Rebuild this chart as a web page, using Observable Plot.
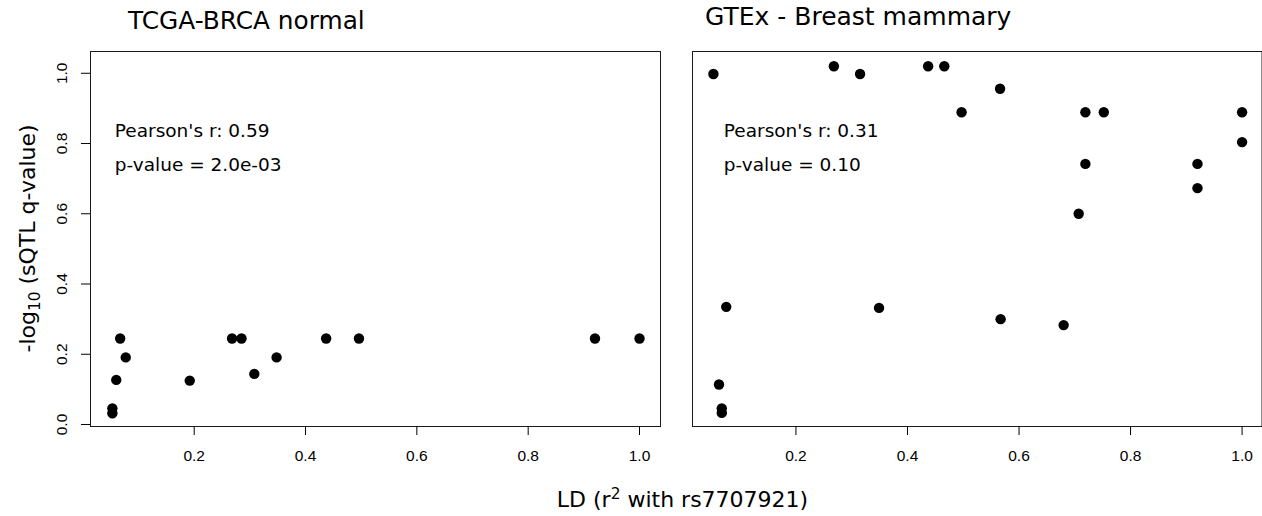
<!DOCTYPE html>
<html>
<head>
<meta charset="utf-8">
<script src="https://cdn.jsdelivr.net/npm/d3@7"></script>
<script src="https://cdn.jsdelivr.net/npm/@observablehq/plot@0.6"></script>
<style>
  html, body { margin: 0; padding: 0; background: #fff; }
  #fig { position: relative; width: 1262px; height: 516px; overflow: hidden; background: #fff; }
  #fig > svg { position: absolute; top: 0; }
</style>
</head>
<body>
<div id="fig"></div>
<script>
// LD (r^2 with rs7707921) versus -log10 sQTL q-value, two cohorts
const tcgaLD = [0.067, 0.077, 0.060, 0.053, 0.053, 0.192, 0.268, 0.285, 0.308, 0.348, 0.437, 0.496, 0.920, 1.000];
const tcgaQ  = [0.245, 0.191, 0.127, 0.046, 0.032, 0.125, 0.245, 0.245, 0.144, 0.191, 0.245, 0.245, 0.245, 0.245];

const gtexLD = [0.052, 0.268, 0.315, 0.437, 0.466, 0.497, 0.566, 0.719, 0.752, 1.000, 1.000, 0.719, 0.920, 0.920, 0.707, 0.075, 0.349, 0.062, 0.067, 0.067, 0.567, 0.680];
const gtexQ  = [0.998, 1.020, 0.998, 1.020, 1.020, 0.889, 0.956, 0.889, 0.889, 0.889, 0.804, 0.742, 0.742, 0.673, 0.600, 0.335, 0.332, 0.114, 0.046, 0.033, 0.300, 0.283];

const panelTitles = ["TCGA-BRCA normal", "GTEx - Breast mammary"];
const pearsonR = ["0.59", "0.31"];
const pValues = ["2.0e-03", "0.10"];

const xTicks = [0.2, 0.4, 0.6, 0.8, 1.0];
const yTicks = [0.0, 0.2, 0.4, 0.6, 0.8, 1.0];

const fmt1 = d3.format(".1f");
const annotFont = "'DejaVu Sans', sans-serif";
const tickFont = "'Liberation Sans', Arial, sans-serif";
const tickSizePx = 15.5;
const yDomain = [-0.0057, 1.062];

function panel({ld, q, width, marginLeft, marginRight, xDomain, showY, r, p, statX}) {
  const pts = ld.map((x, i) => ({ld: x, q: q[i]}));
  return Plot.plot({
    width, height: 516,
    marginLeft, marginRight, marginTop: 51, marginBottom: 90,
    style: {fontFamily: tickFont, fontSize: `${tickSizePx}px`, color: "#000", background: "transparent"},
    x: {domain: xDomain},
    y: {domain: yDomain, axis: showY ? undefined : null},
    marks: [
      Plot.frame({stroke: "#1a1a1a"}),
      Plot.axisX({ticks: xTicks, tickSize: 9, tickPadding: 14, tickFormat: fmt1, label: null,
        fontSize: tickSizePx, fontFamily: tickFont, fill: "#000"}),
      // y tick marks only; the labels are drawn rotated below
      showY ? Plot.axisY({ticks: yTicks, tickSize: 9, tickFormat: () => "", label: null}) : null,
      showY ? Plot.text(yTicks, {y: d => d, text: fmt1, frameAnchor: "left", dx: -28.3,
        rotate: -90, textAnchor: "middle", lineAnchor: "middle",
        fontSize: tickSizePx, fontFamily: tickFont, fill: "#000"}) : null,
      Plot.dot(pts, {x: "ld", y: "q", r: 5.2, fill: "#000", stroke: null}),
      Plot.text([`Pearson's r: ${r}`], {x: () => statX, y: () => 0.835, textAnchor: "start",
        lineAnchor: "middle", fontFamily: annotFont, fontSize: 18.5, fill: "#000"}),
      Plot.text([`p-value = ${p}`], {x: () => statX, y: () => 0.738, textAnchor: "start",
        lineAnchor: "middle", fontFamily: annotFont, fontSize: 18.5, fill: "#000"})
    ]
  });
}

const fig = document.getElementById("fig");

const left = panel({ld: tcgaLD, q: tcgaQ, width: 661, marginLeft: 90, marginRight: 1,
  xDomain: [0.0137, 1.0377], showY: true, r: pearsonR[0], p: pValues[0], statX: 0.0574});
left.style.left = "0px";
fig.appendChild(left);

const right = panel({ld: gtexLD, q: gtexQ, width: 601, marginLeft: 31, marginRight: 0.5,
  xDomain: [0.0145, 1.0357], showY: false, r: pearsonR[1], p: pValues[1], statX: 0.0707});
right.style.left = "661px";
fig.appendChild(right);

// Panel titles and shared axis titles
const ov = d3.select(fig).append("svg")
  .attr("width", 1262).attr("height", 516)
  .style("left", "0px").style("pointer-events", "none")
  .attr("font-family", annotFont).attr("fill", "#000");

ov.append("text").attr("x", 128).attr("y", 29.3).attr("font-size", 24.8).text(panelTitles[0]);
ov.append("text").attr("x", 705).attr("y", 25).attr("font-size", 25).text(panelTitles[1]);

const yl = ov.append("text").attr("transform", "translate(35,238.5) rotate(-90)")
  .attr("text-anchor", "middle").attr("font-size", 22);
yl.append("tspan").text("-log");
yl.append("tspan").attr("font-size", 15.4).attr("dy", 5).text("10");
yl.append("tspan").attr("dy", -5).text(" (sQTL q-value)");

const xl = ov.append("text").attr("x", 682.5).attr("y", 506.7)
  .attr("text-anchor", "middle").attr("font-size", 22);
xl.append("tspan").text("LD (r");
xl.append("tspan").attr("font-size", 15.4).attr("dy", -8).text("2");
xl.append("tspan").attr("dy", 8).text(" with rs7707921)");
</script>
</body>
</html>
